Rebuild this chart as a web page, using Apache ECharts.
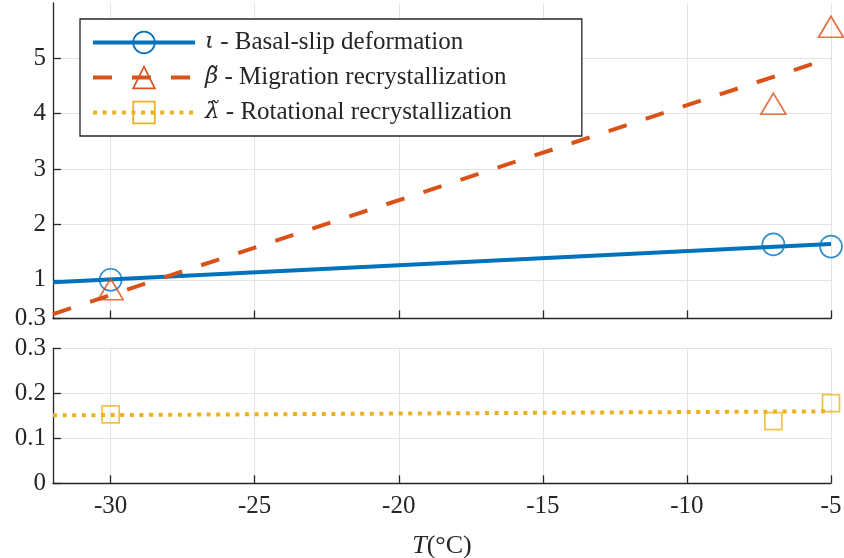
<!DOCTYPE html>
<html>
<head>
<meta charset="utf-8">
<script src="https://cdn.jsdelivr.net/npm/echarts@6/dist/echarts.min.js"></script>
<style>
  html, body { margin: 0; padding: 0; background: #fff; }
  #chart { width: 844px; height: 558px; }
</style>
</head>
<body>
<div id="chart"></div>
<script>
// Measured points: temperature (°C) and the three deformation/recrystallization factors
const temps = [-30, -7, -5];
const basalSlip = [1.0, 1.64, 1.60];
const migration = [0.83, 4.18, 5.57];
const rotational = [0.153, 0.138, 0.178];

// Trend lines across the plotted temperature range
const fitTemps = [-32, -5];
const basalFit = [0.955, 1.645];
const migrationFit = [0.38, 5.01];
const rotationalFit = [0.151, 0.160];

// Tick positions
const xTicks = [-30, -25, -20, -15, -10, -5];
const topYTicks = [0.3, 1, 2, 3, 4, 5];
const bottomYTicks = [0, 0.1, 0.2, 0.3];

const names = {
  basal: 'basal',
  migration: 'migration',
  rotational: 'rotational'
};
const labels = {
  basal: '{m|ι} - Basal-slip deformation',
  migration: '{m|β\u0303} - Migration recrystallization',
  rotational: '{m|λ\u0303} - Rotational recrystallization'
};

const BLUE = '#0072BD', ORANGE = '#D95319', YELLOW = '#EDB120';
const INK = '#262626', GRID = '#e3e3e3';
const FONT = 'Liberation Serif';
const GREEK = 'DejaVu Serif';

const pairs = (xs, ys) => xs.map((x, i) => [x, ys[i]]);

function xAxis(gridIndex, showLabels) {
  return {
    type: 'value', gridIndex, min: -32, max: -5,
    axisLine: { show: true, onZero: false, lineStyle: { color: INK, width: 1.3 } },
    axisTick: { show: true, inside: true, length: 8, customValues: xTicks, lineStyle: { color: INK, width: 1.3 } },
    axisLabel: { show: showLabels, customValues: xTicks, margin: 11, color: INK, fontFamily: FONT, fontSize: 25 },
    splitLine: { show: true, lineStyle: { color: GRID, width: 1 } },
    name: showLabels ? '{i|T}(°C)' : '',
    nameLocation: 'middle', nameGap: 50,
    nameTextStyle: { color: INK, fontFamily: FONT, fontSize: 26, rich: { i: { fontStyle: 'italic', fontFamily: FONT, fontSize: 26, color: INK } } }
  };
}
function yAxis(gridIndex, min, max, ticks) {
  return {
    type: 'value', gridIndex, min, max,
    axisLine: { show: true, onZero: false, lineStyle: { color: INK, width: 1.3 } },
    axisTick: { show: true, inside: true, length: 8, customValues: ticks, lineStyle: { color: INK, width: 1.3 } },
    axisLabel: { customValues: ticks, margin: 7, color: INK, fontFamily: FONT, fontSize: 25 },
    splitLine: { show: true, lineStyle: { color: GRID, width: 1 } }
  };
}

function trend(name, xi, yi, ys, color, width, dash, symbol) {
  return {
    type: 'line', name, xAxisIndex: xi, yAxisIndex: yi,
    data: pairs(fitTemps, ys), showSymbol: false, symbol,
    lineStyle: { color, width, type: dash, cap: 'butt' },
    itemStyle: { color },
    silent: true, animation: false, z: 2
  };
}
function points(xi, yi, ys, color, symbol, size) {
  return {
    type: 'scatter', name: '_' + symbol, xAxisIndex: xi, yAxisIndex: yi,
    data: pairs(temps, ys), symbol, symbolSize: size,
    itemStyle: { color: 'rgba(0,0,0,0)', borderColor: color, borderWidth: 1.7 },
    silent: true, animation: false, z: 3
  };
}

const option = {
  backgroundColor: '#fff',
  animation: false,
  grid: [
    { left: 53, right: 13, top: 3, height: 315.5, outerBoundsMode: 'none' },
    { left: 53, right: 13, top: 348.3, height: 135, outerBoundsMode: 'none' }
  ],
  xAxis: [xAxis(0, false), xAxis(1, true)],
  yAxis: [yAxis(0, 0.3, 6, topYTicks), yAxis(1, 0, 0.3, bottomYTicks)],
  legend: {
    orient: 'vertical', left: 80, top: 19,
    padding: [11, 70, 11, 11], itemGap: 10,
    itemWidth: 102, itemHeight: 27,
    backgroundColor: '#fff', borderColor: INK, borderWidth: 1.3,
    selectedMode: false,
    textStyle: { color: INK, fontFamily: FONT, fontSize: 25,
      rich: { m: { fontStyle: 'italic', fontFamily: GREEK, fontSize: 23, color: INK, padding: [0, 0, 0, 5] } } },
    formatter: (n) => labels[n],
    data: [
      { name: names.basal,
        itemStyle: { color: 'rgba(0,0,0,0)', borderColor: BLUE, borderWidth: 1.7 },
        lineStyle: { color: BLUE, width: 4, type: 'solid' } },
      { name: names.migration,
        itemStyle: { color: 'rgba(0,0,0,0)', borderColor: ORANGE, borderWidth: 1.7 },
        lineStyle: { color: ORANGE, width: 4, type: [19, 20] } },
      { name: names.rotational,
        itemStyle: { color: 'rgba(0,0,0,0)', borderColor: YELLOW, borderWidth: 1.7 },
        lineStyle: { color: YELLOW, width: 4, type: [4, 5.6] } }
    ]
  },
  series: [
    trend(names.basal, 0, 0, basalFit, BLUE, 4, 'solid', 'circle'),
    trend(names.migration, 0, 0, migrationFit, ORANGE, 4, [19, 20], 'triangle'),
    trend(names.rotational, 1, 1, rotationalFit, YELLOW, 4, [4, 5.6], 'rect'),
    points(0, 0, basalSlip, BLUE, 'circle', 22),
    points(0, 0, migration, ORANGE, 'triangle', [25, 21]),
    points(1, 1, rotational, YELLOW, 'rect', 17)
  ]
};

const chart = echarts.init(document.getElementById('chart'), null, { renderer: 'canvas' });
chart.setOption(option);
</script>
</body>
</html>
